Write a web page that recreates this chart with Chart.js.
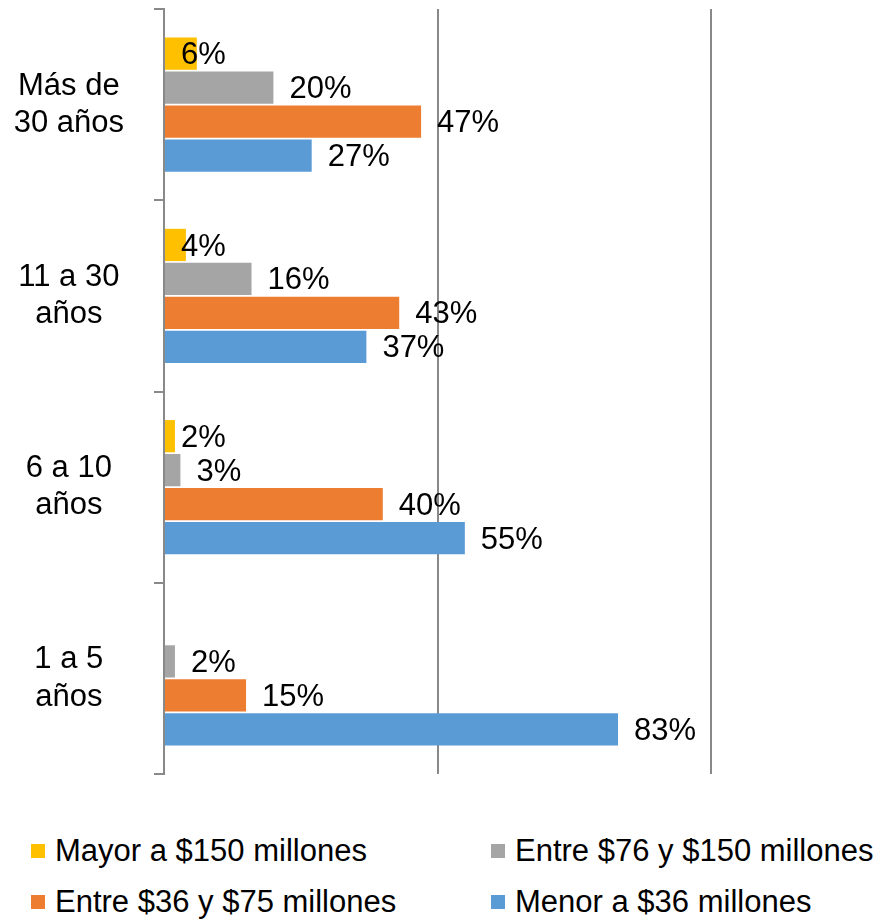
<!DOCTYPE html>
<html>
<head>
<meta charset="utf-8">
<script src="https://cdn.jsdelivr.net/npm/chart.js@4/dist/chart.umd.min.js"></script>
<style>
  body { margin: 0; background: #fff; }
  .wrap { position: relative; width: 889px; height: 920px; font-family: "Liberation Sans", Arial, sans-serif; }
  .legend { position: absolute; left: 31px; top: 825px; display: grid; grid-template-columns: 460px auto; }
  .legend .item { display: flex; align-items: center; height: 51px; font-size: 31px; color: #000; white-space: nowrap; }
  .legend .box { width: 14px; height: 14px; margin-right: 10px; flex: none; }
</style>
</head>
<body>
<div class="wrap">
  <canvas id="chart" width="889" height="790"></canvas>
  <div class="legend" id="legend"></div>
</div>
<script>
const categories = [['Más de', '30 años'], ['11 a 30', 'años'], ['6 a 10', 'años'], ['1 a 5', 'años']];
const seriesNames = ['Mayor a $150 millones', 'Entre $76 y $150 millones', 'Entre $36 y $75 millones', 'Menor a $36 millones'];
const mayor150 = [6, 4, 2, null];
const entre76y150 = [20, 16, 3, 2];
const entre36y75 = [47, 43, 40, 15];
const menor36 = [27, 37, 55, 83];
const colors = ['#FFC000', '#A5A5A5', '#ED7D31', '#5B9BD5'];

const font = '"Liberation Sans", Arial, sans-serif';
const lineColor = '#898989';

// value labels next to each bar (yellow ones sit near the axis like in the original)
const barLabels = {
  id: 'barLabels',
  afterDatasetsDraw(chart) {
    const ctx = chart.ctx;
    ctx.save();
    ctx.font = '31px ' + font;
    ctx.fillStyle = '#000';
    ctx.textBaseline = 'middle';
    ctx.textAlign = 'left';
    chart.data.datasets.forEach((ds, i) => {
      chart.getDatasetMeta(i).data.forEach((bar, j) => {
        const v = ds.data[j];
        if (v == null) return;
        const x = (ds.labelAtBase ? bar.base : bar.x) + 16;
        ctx.fillText(v + '%', x, bar.y + 2);
      });
    });
    ctx.restore();
  }
};

const seriesData = [mayor150, entre76y150, entre36y75, menor36];

const chart = new Chart(document.getElementById('chart'), {
  type: 'bar',
  data: {
    labels: categories,
    datasets: seriesData.map((d, i) => ({
      label: seriesNames[i],
      data: d,
      backgroundColor: colors[i],
      borderWidth: 0,
      categoryPercentage: 0.71,
      barPercentage: 0.95,
      labelAtBase: i === 0,
    })),
  },
  options: {
    indexAxis: 'y',
    responsive: false,
    animation: false,
    layout: { padding: { top: 9, right: 178, bottom: 16, left: 0 } },
    plugins: {
      legend: { display: false },
      tooltip: { enabled: false },
    },
    scales: {
      x: {
        min: 0,
        max: 100,
        ticks: { display: false, stepSize: 50 },
        grid: { color: lineColor, lineWidth: 2, drawTicks: false },
        border: { display: false },
      },
      y: {
        grid: { drawOnChartArea: false, drawTicks: true, tickLength: 10, color: lineColor, lineWidth: 2, offset: true },
        border: { color: lineColor, width: 2 },
        ticks: { font: { size: 31, family: font, lineHeight: 1.2 }, color: '#000', padding: 30, crossAlign: 'center' },
        afterFit(scale) {
          scale.width = 164;
          scale.paddingTop = 0;
          scale.paddingBottom = 0;
        },
      },
    },
  },
  plugins: [barLabels],
});

const legend = document.getElementById('legend');
chart.data.datasets.forEach(ds => {
  const item = document.createElement('div');
  item.className = 'item';
  const box = document.createElement('span');
  box.className = 'box';
  box.style.background = ds.backgroundColor;
  item.appendChild(box);
  item.appendChild(document.createTextNode(ds.label));
  legend.appendChild(item);
});
</script>
</body>
</html>
